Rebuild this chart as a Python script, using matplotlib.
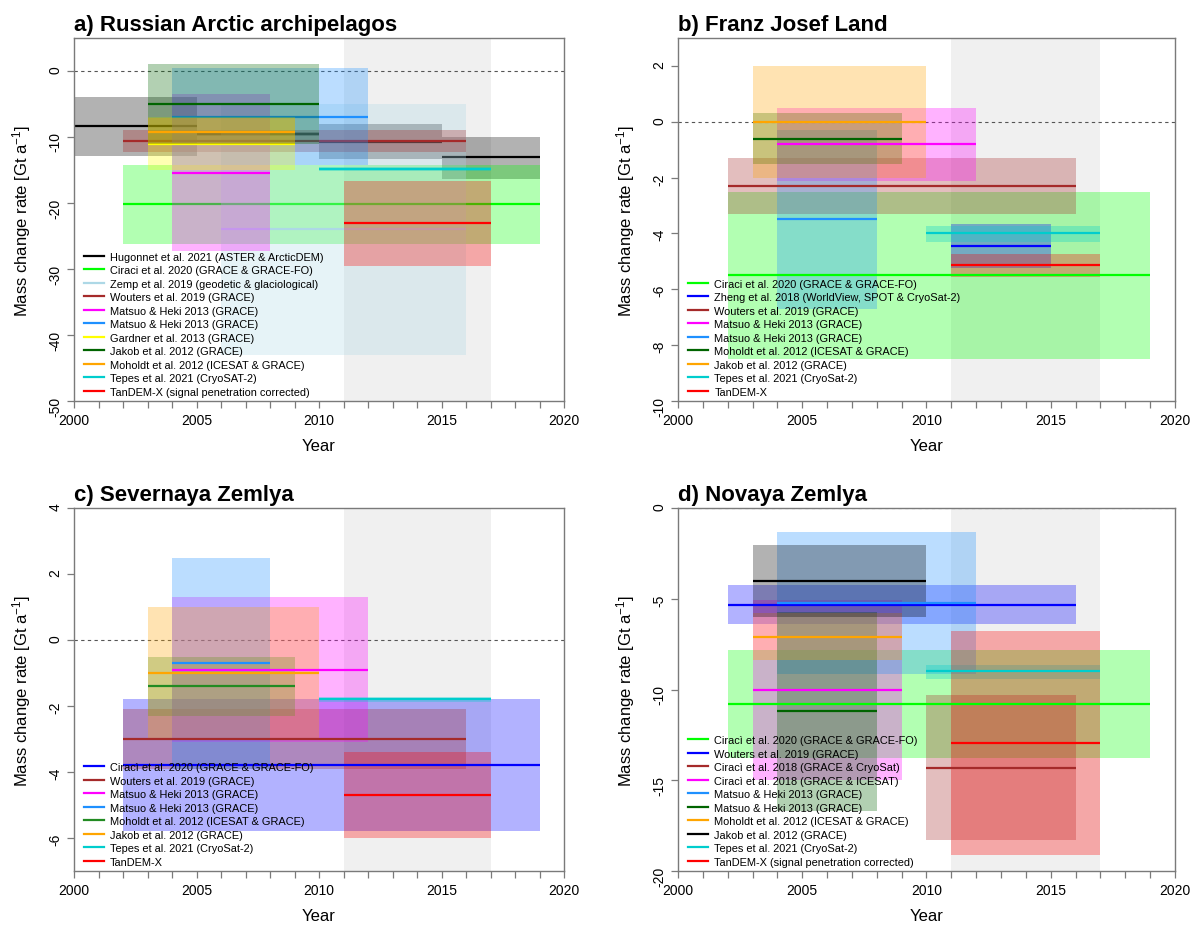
import sys

import matplotlib
matplotlib.use("Agg")
import matplotlib.pyplot as plt
from matplotlib.lines import Line2D

plt.rcParams['font.family'] = ['Liberation Sans', 'DejaVu Sans']
plt.rcParams['axes.unicode_minus'] = False
plt.rcParams['mathtext.default'] = 'regular'

# a) Russian Arctic archipelagos (Hugonnet split into 5-year periods)
a_labels = ["Hugonnet et al. 2021 (ASTER & ArcticDEM)", "", "", "",
            "Ciraci et al. 2020 (GRACE & GRACE-FO)",
            "Zemp et al. 2019 (geodetic & glaciological)",
            "Wouters et al. 2019 (GRACE)",
            "Matsuo & Heki 2013 (GRACE)",
            "Matsuo & Heki 2013 (GRACE)",
            "Gardner et al. 2013 (GRACE)",
            "Jakob et al. 2012 (GRACE)",
            "Moholdt et al. 2012 (ICESAT & GRACE)",
            "Tepes et al. 2021 (CryoSAT-2)",
            "TanDEM-X (signal penetration corrected)"]
a_start = [2000, 2005, 2010, 2015, 2002, 2006, 2002, 2004, 2004, 2003, 2003, 2003, 2010, 2011]
a_end = [2005, 2010, 2015, 2019, 2019, 2016, 2016, 2008, 2012, 2009, 2010, 2009, 2017, 2017]
a_rate = [-8.4, -9.6, -10.7, -13.1, -20.2, -24.0, -10.6, -15.4, -6.9, -11.0, -5.0, -9.2, -14.8, -23.1]
a_low = [-12.9, -9.9, -13.4, -16.3, -26.2, -43.0, -12.3, -27.2, -14.2, -15.0, -11.0, -11.1, -15.1, -29.5]
a_high = [-3.9, -9.3, -8.0, -10.0, -14.2, -5.0, -8.9, -3.5, 0.5, -7.0, 1.0, -7.1, -14.5, -16.7]
a_colors = ["black", "black", "black", "black", "#00ff00", "lightblue", "brown", "magenta",
            "dodgerblue", "yellow", "darkgreen", "orange", "#00cdcd", "red"]

# b) Franz Josef Land
b_labels = ["Ciraci et al. 2020 (GRACE & GRACE-FO)",
            "Zheng et al. 2018 (WorldView, SPOT & CryoSat-2)",
            "Wouters et al. 2019 (GRACE)",
            "Matsuo & Heki 2013 (GRACE)",
            "Matsuo & Heki 2013 (GRACE)",
            "Moholdt et al. 2012 (ICESAT & GRACE)",
            "Jakob et al. 2012 (GRACE)",
            "Tepes et al. 2021 (CryoSat-2)",
            "TanDEM-X"]
b_start = [2002, 2011, 2002, 2004, 2004, 2003, 2003, 2010, 2011]
b_end = [2019, 2015, 2016, 2012, 2008, 2009, 2010, 2017, 2017]
b_rate = [-5.5, -4.44, -2.3, -0.8, -3.5, -0.6, 0.0, -4.0, -5.14]
b_low = [-8.5, -5.23, -3.3, -2.12, -6.7, -1.5, -2.0, -4.3, -5.57]
b_high = [-2.5, -3.66, -1.3, 0.49, -0.3, 0.3, 2.0, -3.72, -4.74]
b_colors = ["#00ff00", "blue", "brown", "magenta", "dodgerblue", "darkgreen", "orange", "#00cdcd", "red"]

# c) Severnaya Zemlya
c_labels = ["Ciracì et al. 2020 (GRACE & GRACE-FO)",
            "Wouters et al. 2019 (GRACE)",
            "Matsuo & Heki 2013 (GRACE)",
            "Matsuo & Heki 2013 (GRACE)",
            "Moholdt et al. 2012 (ICESAT & GRACE)",
            "Jakob et al. 2012 (GRACE)",
            "Tepes et al. 2021 (CryoSat-2)",
            "TanDEM-X"]
c_start = [2002, 2002, 2004, 2004, 2003, 2003, 2010, 2011]
c_end = [2019, 2016, 2012, 2008, 2009, 2010, 2017, 2017]
c_rate = [-3.8, -3.0, -0.9, -0.7, -1.4, -1.0, -1.78, -4.7]
c_low = [-5.8, -3.9, -3.1, -3.9, -2.3, -3.0, -1.87, -6.0]
c_high = [-1.8, -2.1, 1.3, 2.5, -0.5, 1.0, -1.72, -3.4]
c_colors = ["blue", "brown", "magenta", "dodgerblue", "forestgreen", "orange", "#00cdcd", "red"]

# d) Novaya Zemlya
d_labels = ["Ciracì et al. 2020 (GRACE & GRACE-FO)",
            "Wouters et al. 2019 (GRACE)",
            "Ciracì et al. 2018 (GRACE & CryoSat)",
            "Ciracì et al. 2018 (GRACE & ICESAT)",
            "Matsuo & Heki 2013 (GRACE)",
            "Matsuo & Heki 2013 (GRACE)",
            "Moholdt et al. 2012 (ICESAT & GRACE)",
            "Jakob et al. 2012 (GRACE)",
            "Tepes et al. 2021 (CryoSat-2)",
            "TanDEM-X (signal penetration corrected)"]
d_start = [2002, 2002, 2010, 2003, 2004, 2004, 2003, 2003, 2010, 2011]
d_end = [2019, 2016, 2016, 2009, 2012, 2008, 2009, 2010, 2017, 2017]
d_rate = [-10.82, -5.33, -14.3, -10.0, -5.23, -11.2, -7.12, -4.0, -9.0, -12.93]
d_low = [-13.77, -6.41, -18.3, -15.0, -9.12, -16.67, -8.4, -6.0, -9.4, -19.1]
d_high = [-7.84, -4.23, -10.3, -5.05, -1.34, -5.75, -5.8, -2.05, -8.63, -6.76]
d_colors = ["#00ff00", "blue", "brown", "magenta", "dodgerblue", "darkgreen", "orange", "black", "#00cdcd", "red"]

FRAME = "#7a7a7a"


def panel(rect, title, labels, colors, start, end, rate, low, high, ylim, yticks, lines_on_top):
    ax = plt.gcf().add_axes(rect)
    ax.axvspan(2011, 2017, color="#f0f0f0", lw=0, zorder=0)
    ax.axhline(0, color="#555555", ls=(0, (3, 3)), lw=0.8, zorder=1)

    # boxes are the uncertainty range, the line is the mean rate
    for i in range(len(labels)):
        ax.fill_between([start[i], end[i]], low[i], high[i], color=colors[i],
                        alpha=0.3, lw=0, zorder=2)
        ax.hlines(rate[i], start[i], end[i], color=colors[i], lw=1.6,
                  zorder=3 if lines_on_top else 2)

    ax.set_xlim(2000, 2020)
    ax.set_ylim(*ylim)
    ax.set_xticks(range(2000, 2021, 5))
    ax.set_xticks(range(2000, 2021), minor=True)
    ax.set_yticks(yticks)
    ax.tick_params(which="both", direction="out", length=5, width=0.9, color=FRAME,
                   labelsize=10)
    ax.tick_params(axis="y", labelrotation=90)
    for s in ax.spines.values():
        s.set_color(FRAME)
        s.set_linewidth(1.0)

    ax.set_xlabel("Year", fontsize=12, labelpad=8)
    ax.set_ylabel("Mass change rate [Gt a$^{-1}$]", fontsize=12, labelpad=11)
    ax.set_title(title, loc="left", fontsize=16, fontweight="bold", pad=6)

    handles = [Line2D([], [], color=c, lw=1.6) for l, c in zip(labels, colors) if l]
    names = [l for l in labels if l]
    ax.legend(handles, names, loc="lower left", bbox_to_anchor=(0.02, 0.012),
              frameon=False, fontsize=7.9, handlelength=1.8, handletextpad=0.6,
              labelspacing=0.32, borderpad=0, borderaxespad=0)
    return ax


def main():
    plt.figure(figsize=(11.98, 9.28), dpi=100)

    panel([0.0618, 0.5668, 0.4090, 0.3912], "a) Russian Arctic archipelagos",
          a_labels, a_colors, a_start, a_end, a_rate, a_low, a_high,
          (-50, 5), range(-50, 1, 10), False)
    panel([0.5659, 0.5668, 0.4149, 0.3912], "b) Franz Josef Land",
          b_labels, b_colors, b_start, b_end, b_rate, b_low, b_high,
          (-10, 3), range(-10, 3, 2), True)
    panel([0.0618, 0.0603, 0.4090, 0.3912], "c) Severnaya Zemlya",
          c_labels, c_colors, c_start, c_end, c_rate, c_low, c_high,
          (-7, 4), range(-6, 5, 2), True)
    panel([0.5659, 0.0603, 0.4149, 0.3912], "d) Novaya Zemlya",
          d_labels, d_colors, d_start, d_end, d_rate, d_low, d_high,
          (-20, 0), range(-20, 1, 5), True)

    plt.savefig("out.png", dpi=100)


if __name__ == '__main__':
    try:
        main()
    except KeyboardInterrupt:
        print('Interrupted')
        sys.exit(130)
